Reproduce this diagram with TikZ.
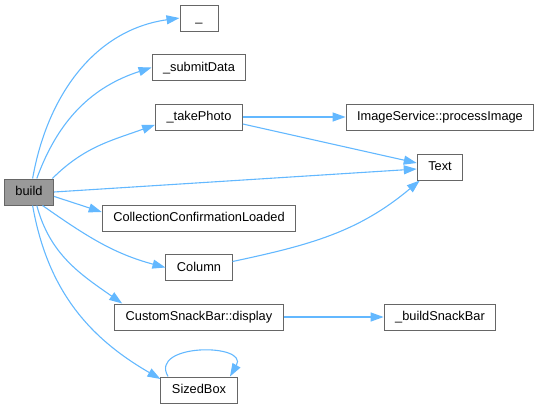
\documentclass[tikz,border=0pt]{standalone}
\usepackage{fontspec}
\setmainfont{Liberation Sans}
\usetikzlibrary{arrows.meta,positioning}
\definecolor{edgeblue}{RGB}{99,184,255}
\definecolor{boxgray}{RGB}{102,102,102}
\definecolor{fillgray}{RGB}{153,153,153}

\begin{document}
\begin{tikzpicture}[
    x=1pt, y=-1pt,
    node distance=49.5pt,
    box/.style={rectangle, draw=boxgray, line width=1pt, fill=white, minimum height=26pt, inner xsep=11pt, text height=9.5pt, text depth=2.5pt, font=\fontsize{12.8}{15}\selectfont},
    call/.style={draw=edgeblue, line width=1.1pt, -{Triangle[length=13pt,width=9pt]}}
]
    \useasboundingbox (0,0) rectangle (542,408);

    % caller
    \node (build) [box, fill=fillgray] at (29,192) {build};

    % callees
    \node (u) [box, minimum width=38pt] at (199,18) {\_};
    \node (submit) [box, below of=u] {\_submitData};
    \node (take) [box, below of=submit] {\_takePhoto};
    \node (collect) [box] at (199,218) {CollectionConfirmationLoaded};
    \node (column) [box, below of=collect] {Column};
    \node (display) [box, below of=column] {CustomSnackBar::display};
    \node (sized) [box] at (199,390) {SizedBox};

    \node (image) [box] at (440,117) {ImageService::processImage};
    \node (text) [box, below of=image, node distance=50pt] {Text};
    \node (snack) [box] at (440,317) {\_buildSnackBar};

    \draw [call] (build.75) to[out=80, in=188] (u.west);
    \draw [call] (build.60) to[out=70, in=198] (submit.west);
    \draw [call] (build.30) to[out=45, in=200] (take.-170);
    \draw [call] (build.east) -- ([yshift=-2pt]text.west);
    \draw [call] (build.-10) -- ([yshift=6pt]collect.west);
    \draw [call] (build.-45) to[out=-35, in=165] (column.west);
    \draw [call] (build.-60) to[out=-75, in=145] ([xshift=8pt]display.north west);
    \draw [call] (build.-75) to[out=-80, in=150] ([yshift=11pt]sized.west);

    \draw [call] (take.east) -- (image.west);
    \draw [call] ([yshift=-7pt]take.east) -- ([yshift=4pt]text.west);
    \draw [call] ([yshift=6pt]column.east) to[out=12, in=-140] ([xshift=3pt]text.south west);
    \draw [call] (display.east) -- (snack.west);
    \draw [call] ([xshift=-31pt]sized.north) to[out=120, in=60, looseness=1.6] ([xshift=31pt]sized.north);
\end{tikzpicture}
\end{document}
